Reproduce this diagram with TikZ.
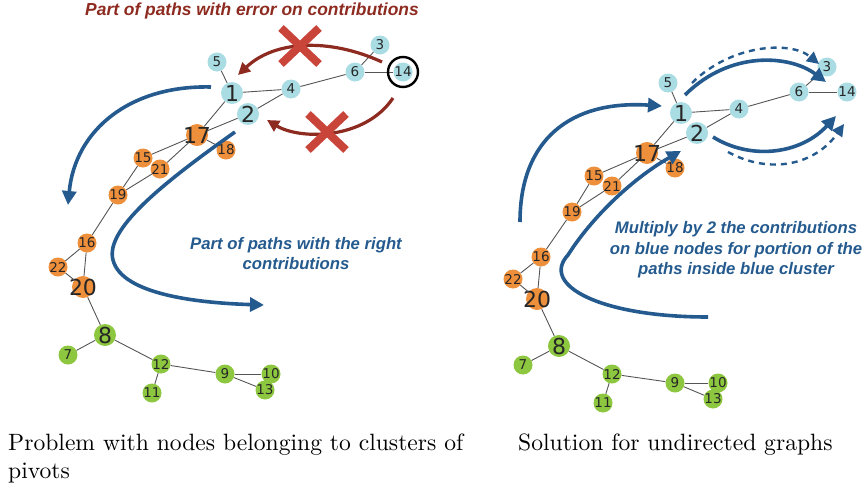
\documentclass[tikz,border=0pt]{standalone}
\usepackage{fontspec}
\usepackage{graphicx}
\newfontfamily\annfont{Liberation Sans}
\newfontfamily\numfont{DejaVu Sans}
\usetikzlibrary{arrows.meta}
\definecolor{nblue}{HTML}{A9DCE3}
\definecolor{norange}{HTML}{EE8F3B}
\definecolor{ngreen}{HTML}{8DC63F}
\definecolor{egray}{HTML}{555555}
\definecolor{abl}{HTML}{245A8E}
\definecolor{ared}{HTML}{8E2B20}
\definecolor{xred}{HTML}{C9453A}
\newcommand\zw[1]{\makebox[0pt]{#1}}
\newcommand\capt[1]{\scalebox{2.36}{\fontsize{10}{12}\selectfont #1}}
\tikzset{
  gnode/.style={circle, inner sep=0pt, minimum size=19pt, text=black!85, font=\numfont\fontsize{13.5}{13.5}\selectfont},
  bignode/.style={gnode, minimum size=22pt, font=\numfont\fontsize{22}{22}\selectfont},
  cb/.style={fill=nblue}, co/.style={fill=norange}, cg/.style={fill=ngreen},
  edge/.style={draw=egray, line width=0.9pt},
  barrow/.style={draw=abl, line width=3.6pt, -{Triangle[length=14pt,width=14pt]}},
  darrow/.style={draw=abl, line width=2.4pt, dash pattern=on 6pt off 5pt, -{Triangle[length=12pt,width=12pt]}},
  rarrow/.style={draw=ared, line width=3.2pt, -{Triangle[length=12pt,width=12pt]}},
  xmark/.style={draw=xred, line width=8pt},
  anntext/.style={font=\annfont\bfseries\itshape\fontsize{16.7}{20.5}\selectfont, align=center},
  captext/.style={anchor=base west, inner sep=0pt}
}
\begin{document}
\begin{tikzpicture}[x=1pt,y=-1pt]
\useasboundingbox (0,0) rectangle (862,490);

% ---------------- left graph ----------------
\node[gnode,cb] (L5) at (217,62) {5};
\node[bignode,cb] (L1) at (232,93) {\zw{1}};
\node[gnode,cb] (L4) at (291,89) {4};
\node[bignode,cb] (L2) at (248,114) {\zw{2}};
\node[gnode,cb] (L6) at (355,72) {6};
\node[gnode,cb] (L3) at (380,45) {3};
\node[gnode,cb] (L14) at (403,72) {\zw{14}};
\node[bignode,co] (L17) at (197,135) {\zw{17}};
\node[gnode,co] (L18) at (226,150) {\zw{18}};
\node[gnode,co] (L15) at (143,158) {\zw{15}};
\node[gnode,co] (L21) at (160,169) {\zw{21}};
\node[gnode,co] (L19) at (118,195) {\zw{19}};
\node[gnode,co] (L16) at (87,243) {\zw{16}};
\node[gnode,co] (L22) at (58,267) {\zw{22}};
\node[bignode,co] (L20) at (83,287) {\zw{20}};
\node[bignode,cg] (L8) at (105,335) {\zw{8}};
\node[gnode,cg] (L7) at (68,355) {7};
\node[gnode,cg] (L12) at (161,364) {\zw{12}};
\node[gnode,cg] (L11) at (152,393) {\zw{11}};
\node[gnode,cg] (L9) at (225,374) {9};
\node[gnode,cg] (L10) at (271,374) {\zw{10}};
\node[gnode,cg] (L13) at (265,390) {\zw{13}};
\foreach \a/\b in {5/1,1/4,4/6,6/3,6/14,1/17,2/4,2/17,17/18,17/15,17/21,15/19,21/19,19/16,16/22,16/20,22/20,20/8,8/7,8/12,12/11,12/9,9/10,9/13}
  \draw[edge] (L\a) -- (L\b);
\node[draw=black, line width=2.4pt, circle, minimum size=30pt, inner sep=0pt] (ring) at (L14) {};

% ---------------- right graph ----------------
\node[gnode,cb] (R5) at (668,83) {5};
\node[bignode,cb] (R1) at (681,113) {\zw{1}};
\node[gnode,cb] (R4) at (739,109) {4};
\node[bignode,cb] (R2) at (697,133) {\zw{2}};
\node[gnode,cb] (R6) at (799,92) {6};
\node[gnode,cb] (R3) at (827,67) {3};
\node[gnode,cb] (R14) at (847,92) {\zw{14}};
\node[bignode,co] (R17) at (647,153) {\zw{17}};
\node[gnode,co] (R18) at (675,168) {\zw{18}};
\node[gnode,co] (R15) at (594,176) {\zw{15}};
\node[gnode,co] (R21) at (612,186) {\zw{21}};
\node[gnode,co] (R19) at (572,212) {\zw{19}};
\node[gnode,co] (R16) at (541,257) {\zw{16}};
\node[gnode,co] (R22) at (513,279) {\zw{22}};
\node[bignode,co] (R20) at (537,299) {\zw{20}};
\node[bignode,cg] (R8) at (559,346) {\zw{8}};
\node[gnode,cg] (R7) at (523,365) {7};
\node[gnode,cg] (R12) at (612,374) {\zw{12}};
\node[gnode,cg] (R11) at (603,403) {\zw{11}};
\node[gnode,cg] (R9) at (675,383) {9};
\node[gnode,cg] (R10) at (718,383) {\zw{10}};
\node[gnode,cg] (R13) at (713,399) {\zw{13}};
\foreach \a/\b in {5/1,1/4,4/6,6/3,6/14,1/17,2/4,2/17,17/18,17/15,17/21,15/19,21/19,19/16,16/22,16/20,22/20,20/8,8/7,8/12,12/11,12/9,9/10,9/13}
  \draw[edge] (R\a) -- (R\b);

% ---------------- left annotations ----------------
\node[anntext, text=ared, font=\annfont\bfseries\itshape\fontsize{17.4}{20}\selectfont] (t1) at (252,11) {Part of paths with error on contributions};
\coordinate (ra1) at (382,62); \coordinate (ra2) at (238,75);
\draw[rarrow] (ra1) .. controls (330,38) and (275,40) .. (ra2);
\coordinate (rb1) at (393,98); \coordinate (rb2) at (267,120);
\draw[rarrow] (rb1) .. controls (365,140) and (300,140) .. (rb2);
\coordinate (x1) at (300,46); \coordinate (x2) at (327,132);
\draw[xmark] ([shift={(-19,-18)}]x1) -- ([shift={(19,18)}]x1) ([shift={(-19,18)}]x1) -- ([shift={(19,-18)}]x1);
\draw[xmark] ([shift={(-19,-18)}]x2) -- ([shift={(19,18)}]x2) ([shift={(-19,18)}]x2) -- ([shift={(19,-18)}]x2);

\coordinate (ba1) at (211,87); \coordinate (ba2) at (68,205);
\draw[barrow] (ba1) .. controls (130,85) and (75,130) .. (ba2);
\coordinate (bb1) at (235,132); \coordinate (bbm) at (113,260); \coordinate (bb2) at (264,305);
\draw[barrow] (bb1) .. controls (160,185) and (105,230) .. (bbm) .. controls (122,295) and (200,303) .. (bb2);
\node[anntext, text=abl] (t2) at (296,253.5) {Part of paths with the right\\contributions};

% ---------------- right annotations ----------------
\coordinate (ca1) at (520,222); \coordinate (ca2) at (662,106);
\draw[barrow] (ca1) .. controls (520,140) and (570,100) .. (ca2);
\coordinate (cb1) at (685,95); \coordinate (cb2) at (826,82);
\draw[barrow] (cb1) .. controls (730,50) and (790,55) .. (cb2);
\coordinate (cc1) at (692,83); \coordinate (cc2) at (819,64);
\draw[darrow] (cc1) .. controls (730,45) and (790,40) .. (cc2);
\coordinate (cd1) at (713,137); \coordinate (cd2) at (836,116);
\draw[barrow] (cd1) .. controls (750,160) and (800,155) .. (cd2);
\coordinate (ce1) at (728,152); \coordinate (ce2) at (844,124);
\draw[darrow] (ce1) .. controls (770,175) and (815,165) .. (ce2);
\coordinate (cf1) at (708,317); \coordinate (cfm) at (568,255); \coordinate (cf2) at (681,151);
\draw[barrow] (cf1) .. controls (600,317) and (540,285) .. (cfm) .. controls (590,220) and (630,180) .. (cf2);
\node[anntext, text=abl] (t3) at (736,250) {Multiply by 2 the contributions\\on blue nodes for portion of the\\paths inside blue cluster};

% ---------------- captions ----------------
\node[captext] (cap1) at (8,450) {\capt{Problem with nodes belonging to clusters of}};
\node[captext] (cap2) at (8,478) {\capt{pivots}};
\node[captext] (cap3) at (518,450) {\capt{Solution for undirected graphs}};
\end{tikzpicture}
\end{document}
